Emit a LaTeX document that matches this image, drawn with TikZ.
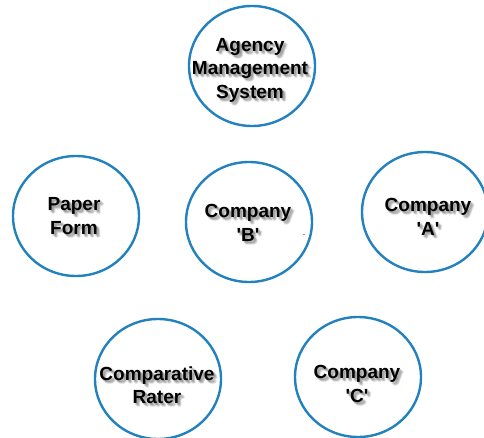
\documentclass[tikz,border=0pt]{standalone}
\usepackage{fontspec}
\setmainfont{Liberation Sans}
\usetikzlibrary{shapes.geometric,calc}
\definecolor{ringblue}{RGB}{35,130,190}
\tikzset{
  ring/.style={ellipse, draw=ringblue, line width=2.4pt,
    minimum width=126pt, minimum height=120pt, inner sep=0pt},
  ringtext/.style={align=center, inner sep=0pt,
    font=\fontsize{19}{23.5}\selectfont\bfseries, text=black},
  softshade/.style={ringtext, text=black!60, opacity=0.12},
}
\newcommand\sq{\textquotesingle}
% text with a soft grey drop shadow
\newcommand\shadowedtext[3]{%
  \foreach \d in {{1,-1},{2,-2},{3,-3},{2,-1},{1,-2},{3,-2},{2,-3},{4,-3},{3,-4}}
    \node[softshade] at ($(#1)+(\d)$) {#3};
  \node[ringtext] (#2) at (#1) {#3};
}
\begin{document}
\begin{tikzpicture}[x=1pt,y=1pt]
  \useasboundingbox (0,0) rectangle (484,437);
  \clip (0,0) rectangle (484,437);
  \fill[white] (0,0) rectangle (484,437);

  % circles
  \node[ring] (ams)   at (252,371) {};
  \node[ring] (paper) at (76,221)  {};
  \node[ring] (compB) at (249,215) {};
  \node[ring] (compA) at (425,225) {};
  \node[ring] (rater) at (158,58)  {};
  \node[ring] (compC) at (358,60)  {};

  % labels
  \coordinate (amsT)   at (250,367);
  \coordinate (paperT) at (74,221);
  \coordinate (compBT) at (248,214);
  \coordinate (compAT) at (428,220);
  \coordinate (raterT) at (157,52);
  \coordinate (compCT) at (357,53);
  \shadowedtext{amsT}{amsL}{Agency\\Management\\System}
  \shadowedtext{paperT}{paperL}{Paper\\Form}
  \shadowedtext{compBT}{compBL}{Company\\\sq B\sq}
  \shadowedtext{compAT}{compAL}{Company\\\sq A\sq}
  \shadowedtext{raterT}{raterL}{Comparative\\Rater}
  \shadowedtext{compCT}{compCL}{Company\\\sq C\sq}

  % small stray tick beside Company 'B'
  \coordinate (tickA) at (302.5,203);
  \coordinate (tickB) at (305,203);
  \draw[ringblue!70, line width=0.8pt] (tickA) -- (tickB);
\end{tikzpicture}
\end{document}
